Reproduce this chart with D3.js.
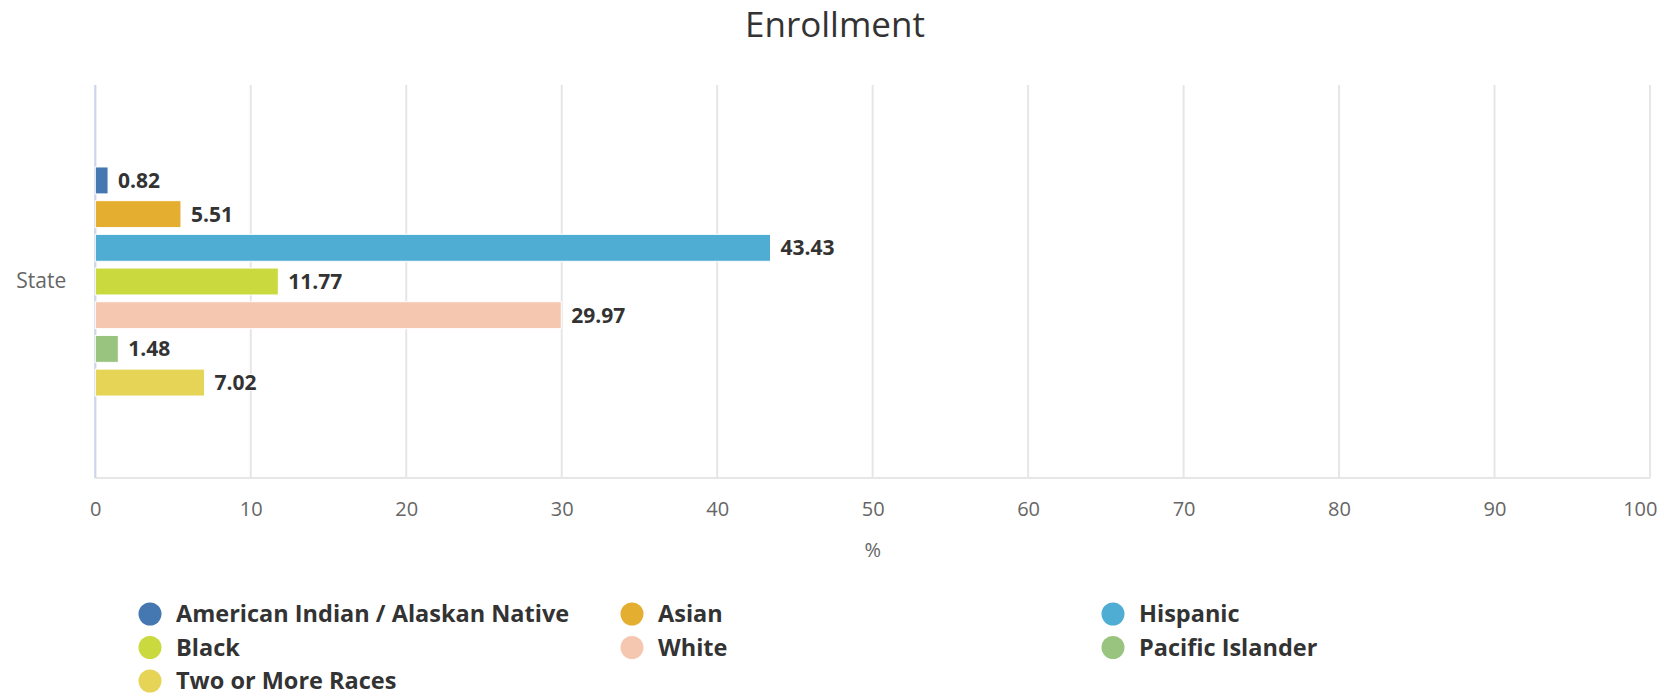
<!DOCTYPE html>
<html>
<head>
<meta charset="utf-8">
<script src="https://cdn.jsdelivr.net/npm/d3@7"></script>
<style>
  body { margin: 0; background: #fff; }
  svg { display: block; font-family: "Open Sans", sans-serif; }
</style>
</head>
<body>
<div id="chart"></div>
<script>
// chart data
var categories = ["State"];
var seriesNames = ["American Indian / Alaskan Native", "Asian", "Hispanic", "Black", "White", "Pacific Islander", "Two or More Races"];
var seriesValues = [0.82, 5.51, 43.43, 11.77, 29.97, 1.48, 7.02];
var seriesColors = ["#4577b0", "#e4ae31", "#4fadd3", "#cad93e", "#f5c7b1", "#98c47f", "#e5d456"];
var xTicks = [0, 10, 20, 30, 40, 50, 60, 70, 80, 90, 100];

var width = 1664,
  height = 696;
var plotLeft = 95.3,
  plotRight = 1650,
  plotTop = 85,
  plotBottom = 478;

var svg = d3.select("#chart").append("svg")
  .attr("width", width)
  .attr("height", height);

// title
svg.append("text")
  .attr("x", width / 2 + 3)
  .attr("y", 37)
  .attr("text-anchor", "middle")
  .style("font-size", "35px")
  .style("fill", "#333333")
  .text("Enrollment");

var xScale = d3.scaleLinear()
  .domain([0, 100])
  .range([plotLeft, plotRight]);

var yScale = d3.scaleBand()
  .domain(categories)
  .range([plotTop, plotBottom]);

// inner band, one slot for each series (group padding 0.2, point padding 0.1)
var inner = d3.scaleBand()
  .domain(seriesNames)
  .range([yScale.bandwidth() * 0.2, yScale.bandwidth() * 0.8])
  .paddingInner(0.2)
  .paddingOuter(0.1);

// grid
svg.append("g")
  .attr("class", "grid")
  .selectAll("line")
  .data(xTicks)
  .enter().append("line")
  .attr("x1", function(d) { return xScale(d); })
  .attr("x2", function(d) { return xScale(d); })
  .attr("y1", plotTop)
  .attr("y2", plotBottom)
  .attr("stroke", "#e6e6e6")
  .attr("stroke-width", 2);

// bottom line
svg.append("line")
  .attr("x1", plotLeft)
  .attr("x2", plotRight)
  .attr("y1", plotBottom)
  .attr("y2", plotBottom)
  .attr("stroke", "#e6e6e6")
  .attr("stroke-width", 2);

// x axis labels
var xAxis = d3.axisBottom(xScale)
  .tickValues(xTicks)
  .tickSize(0)
  .tickPadding(0);

var xg = svg.append("g")
  .attr("transform", "translate(0," + plotBottom + ")")
  .call(xAxis);
xg.select(".domain").remove();
xg.selectAll("text")
  .attr("y", 38)
  .attr("dy", 0)
  .style("font-size", "20px")
  .style("font-family", "'Open Sans', sans-serif")
  .style("fill", "#666666");
// keep the last label inside the picture
xg.selectAll(".tick").filter(function(d) { return d === 100; })
  .select("text")
  .attr("text-anchor", "end")
  .attr("x", 7);

// axis title
svg.append("text")
  .attr("x", (plotLeft + plotRight) / 2)
  .attr("y", 557)
  .attr("text-anchor", "middle")
  .style("font-size", "20px")
  .style("fill", "#666666")
  .text("%");

// category axis
var yAxis = d3.axisLeft(yScale)
  .tickSize(0)
  .tickPadding(29);

var yg = svg.append("g")
  .attr("transform", "translate(" + plotLeft + ",0)")
  .call(yAxis);
yg.select(".domain").remove();
yg.selectAll("text")
  .style("font-size", "21px")
  .style("font-family", "'Open Sans', sans-serif")
  .style("fill", "#666666");

svg.append("line")
  .attr("x1", plotLeft)
  .attr("x2", plotLeft)
  .attr("y1", plotTop)
  .attr("y2", plotBottom)
  .attr("stroke", "#ccd6eb")
  .attr("stroke-width", 2);

// bars
var barData = seriesNames.map(function(name, i) {
  return { name: name, value: seriesValues[i], color: seriesColors[i], cat: categories[0] };
});

var bars = svg.append("g").attr("class", "bars");

bars.selectAll("rect")
  .data(barData)
  .enter().append("rect")
  .attr("x", xScale(0))
  .attr("y", function(d) { return yScale(d.cat) + inner(d.name); })
  .attr("width", function(d) { return xScale(d.value) - xScale(0); })
  .attr("height", inner.bandwidth())
  .attr("fill", function(d) { return d.color; })
  .attr("stroke", "#ffffff")
  .attr("stroke-width", 1);

bars.selectAll("text")
  .data(barData)
  .enter().append("text")
  .attr("x", function(d) { return xScale(d.value) + 10; })
  .attr("y", function(d) { return yScale(d.cat) + inner(d.name) + inner.bandwidth() / 2; })
  .attr("dy", "0.36em")
  .style("font-size", "21px")
  .style("font-weight", "bold")
  .style("fill", "#333333")
  .style("stroke", "#ffffff")
  .style("stroke-width", 2)
  .style("paint-order", "stroke")
  .style("stroke-linejoin", "round")
  .text(function(d) { return d.value.toFixed(2); });

// legend
var legendCols = [150, 632, 1113];
var legendTop = 614,
  legendRow = 33.5;

var legend = svg.append("g").attr("class", "legend")
  .selectAll("g")
  .data(barData)
  .enter().append("g")
  .attr("transform", function(d, i) {
    return "translate(" + legendCols[i % 3] + "," + (legendTop + Math.floor(i / 3) * legendRow) + ")";
  });

legend.append("circle")
  .attr("r", 11.5)
  .attr("fill", function(d) { return d.color; });

legend.append("text")
  .attr("x", 26)
  .attr("dy", "0.36em")
  .style("font-size", "23.5px")
  .style("font-weight", "bold")
  .style("fill", "#333333")
  .text(function(d) { return d.name; });
</script>
</body>
</html>
